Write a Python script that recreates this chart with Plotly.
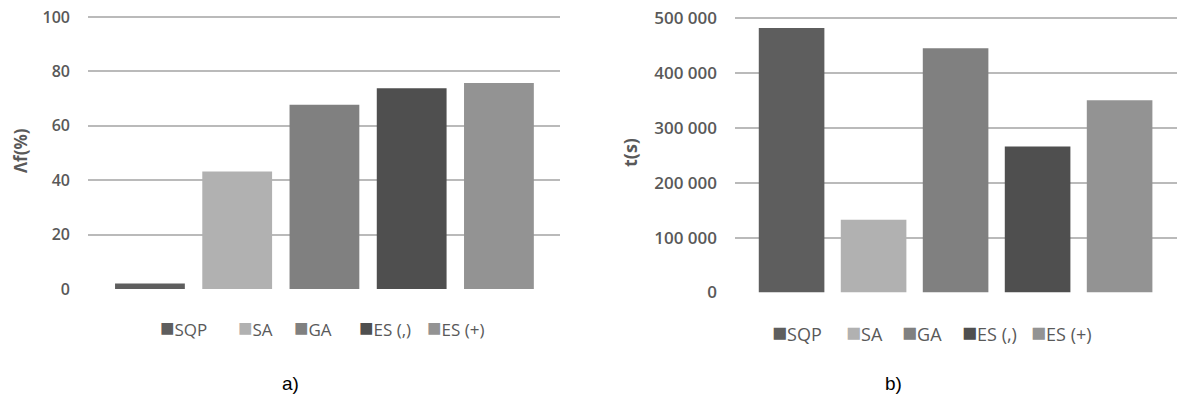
import plotly.graph_objects as go

# Optimisation methods compared in both panels
methods = ["SQP", "SA", "GA", "ES (,)", "ES (+)"]
# a) relative improvement of the objective, in %
delta_f = [2.0, 43.2, 67.7, 73.8, 75.7]
# b) computation time, in seconds
time_s = [482000, 132500, 445000, 266000, 350000]
# per-method bar shades
colors = ["#5e5e5e", "#b1b1b1", "#808080", "#4f4f4f", "#939393"]

W, H = 1177, 417
FONT = "Open Sans"
TXT = "#595959"


def px_x(x):
    return x / W


def px_y(y):
    return 1 - y / H


fig = go.Figure()

for name, val, col in zip(methods, delta_f, colors):
    fig.add_trace(go.Bar(x=[name], y=[val], marker=dict(color=col, line=dict(width=0)),
                         width=0.8, name=name, showlegend=False,
                         xaxis="x", yaxis="y"))
for name, val, col in zip(methods, time_s, colors):
    fig.add_trace(go.Bar(x=[name], y=[val], marker=dict(color=col, line=dict(width=0)),
                         width=0.8, name=name, showlegend=False,
                         xaxis="x2", yaxis="y2"))


def grid(size, standoff):
    return dict(showgrid=True, gridcolor="#bababa", gridwidth=1.5, zeroline=False,
                showline=False, ticks="", ticklabelstandoff=standoff, automargin=False,
                tickfont=dict(family=FONT, size=size, color=TXT, weight=600))


cat = dict(type="category", categoryorder="array", categoryarray=methods, automargin=False,
           showticklabels=False, showgrid=False, zeroline=False, showline=False, ticks="")

# a small headroom above the top tick keeps its gridline visible
fig.update_layout(
    width=W, height=H,
    margin=dict(l=0, r=0, t=0, b=0),
    paper_bgcolor="white", plot_bgcolor="white",
    barmode="overlay",
    separators=". ",
    xaxis=dict(domain=[px_x(88), px_x(560)], range=[-0.71, 4.70], anchor="y", **cat),
    yaxis=dict(domain=[px_y(289), px_y(15)], range=[0, 100.74], tickvals=[0, 20, 40, 60, 80, 100],
               anchor="x", **grid(16, 17)),
    xaxis2=dict(domain=[px_x(735), px_x(1177)], range=[-0.69, 4.70], anchor="y2", **cat),
    yaxis2=dict(domain=[px_y(292.5), px_y(16)], range=[0, 503640],
                tickvals=[0, 100000, 200000, 300000, 400000, 500000],
                tickformat=",d", anchor="x2", **grid(17, 17)),
)

ann = []
# axis titles
ann.append(dict(text="<b>Λf(%)</b>", x=px_x(20), y=px_y(151), xref="paper", yref="paper",
                textangle=-90, showarrow=False, xanchor="center", yanchor="middle",
                font=dict(family=FONT, size=17, color=TXT)))
ann.append(dict(text="<b>t(s)</b>", x=px_x(630), y=px_y(153), xref="paper", yref="paper",
                textangle=-90, showarrow=False, xanchor="center", yanchor="middle",
                font=dict(family=FONT, size=18, color=TXT)))

# legends drawn as coloured squares followed by the method name
left_pos = [158, 236, 292, 357, 425]
right_pos = [770, 844, 900, 960, 1029]
for xs, yc, fs in ((left_pos, 326, 17), (right_pos, 331, 18)):
    for name, col, xp in zip(methods, colors, xs):
        ann.append(dict(text=f"<span style='color:{col};font-size:{fs + 7}px'>■</span>{name}",
                        x=px_x(xp), y=px_y(yc), xref="paper", yref="paper",
                        showarrow=False, xanchor="left", yanchor="middle",
                        font=dict(family=FONT, size=fs, color=TXT)))

# panel captions
for lab, xc in (("a)", 290), ("b)", 893)):
    ann.append(dict(text=lab, x=px_x(xc), y=px_y(383), xref="paper", yref="paper",
                    showarrow=False, xanchor="center", yanchor="middle",
                    font=dict(family="Liberation Sans", size=19, color="black")))

fig.update_layout(annotations=ann)
fig.write_html("out.html")
